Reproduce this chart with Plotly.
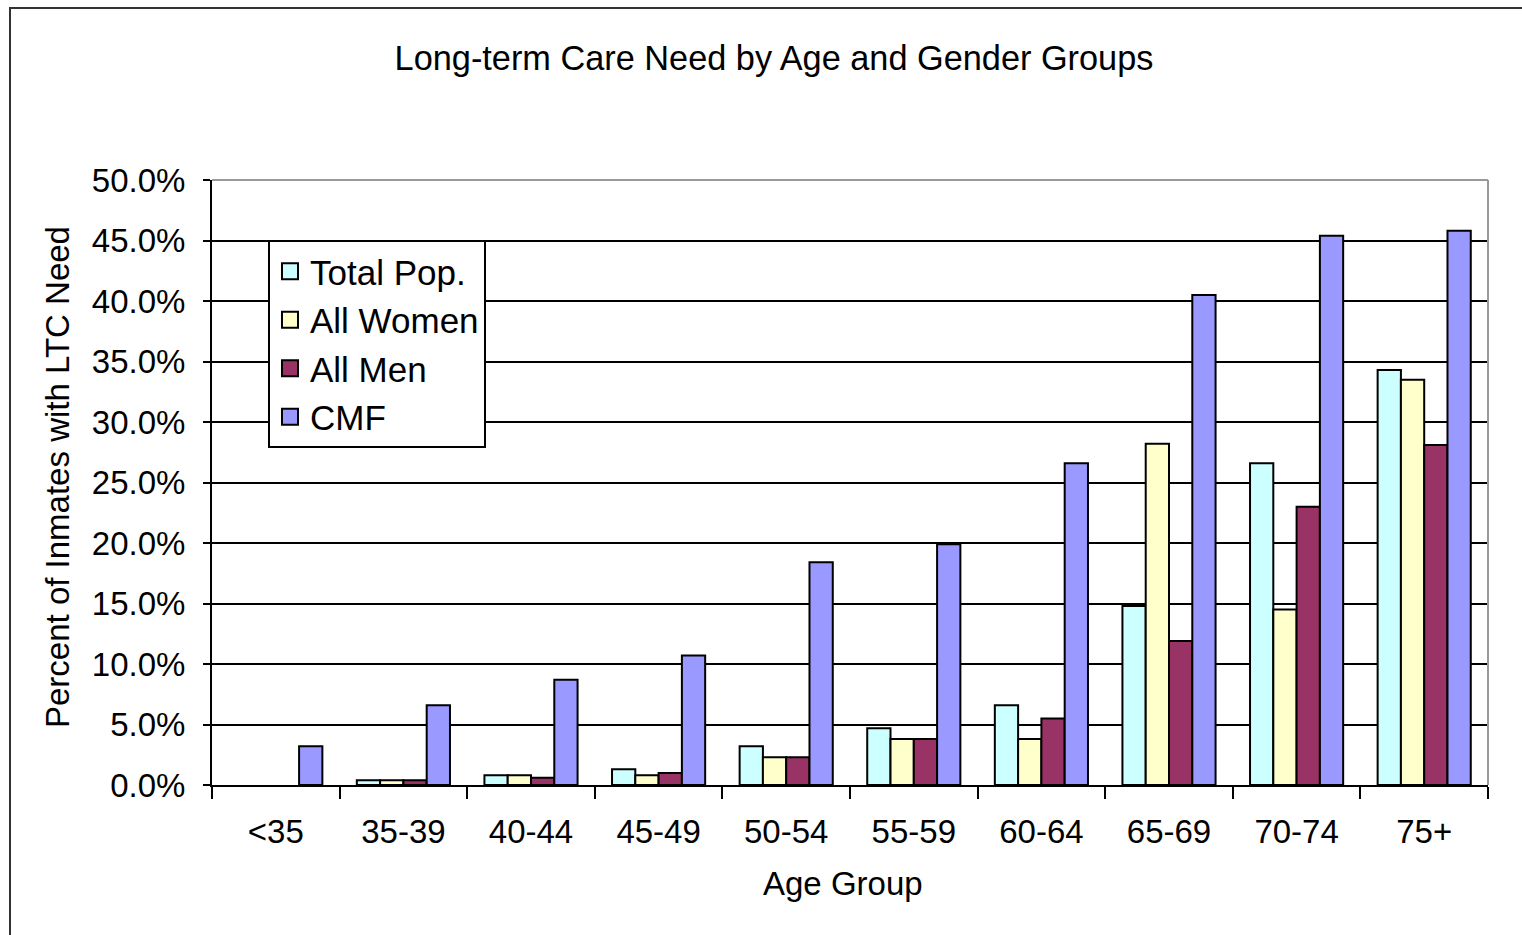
import plotly.graph_objects as go

categories = ["<35", "35-39", "40-44", "45-49", "50-54", "55-59", "60-64", "65-69", "70-74", "75+"]
# None = no bar drawn for that group
total_pop = [None, 0.4, 0.8, 1.3, 3.2, 4.7, 6.6, 14.8, 26.6, 34.3]
all_women = [None, 0.4, 0.8, 0.8, 2.3, 3.8, 3.8, 28.2, 14.5, 33.5]
all_men = [None, 0.4, 0.6, 1.0, 2.3, 3.8, 5.5, 11.9, 23.0, 28.1]
cmf = [3.2, 6.6, 8.7, 10.7, 18.4, 19.9, 26.6, 40.5, 45.4, 45.8]
y_ticks = [0, 5, 10, 15, 20, 25, 30, 35, 40, 45, 50]
y_tick_labels = ["0.0%", "5.0%", "10.0%", "15.0%", "20.0%", "25.0%", "30.0%", "35.0%", "40.0%", "45.0%", "50.0%"]

series = [
    ("Total Pop.", total_pop, "#CCFFFF"),
    ("All Women", all_women, "#FFFFCC"),
    ("All Men", all_men, "#993366"),
    ("CMF", cmf, "#9999FF"),
]

FONT = "Liberation Sans, Arial, sans-serif"
W, H = 1522, 935
L, R, T, B = 212, 34, 180, 150

fig = go.Figure()
for name, vals, color in series:
    fig.add_trace(go.Bar(
        x=categories, y=vals, name=name, showlegend=False,
        marker=dict(color=color, line=dict(color="black", width=2)),
    ))
# legend entries with larger square swatches
for name, vals, color in series:
    fig.add_trace(go.Scatter(
        x=[None], y=[None], name=name, mode="markers",
        marker=dict(symbol="square", size=16, color=color, line=dict(color="black", width=2)),
    ))

fig.update_layout(
    width=W, height=H,
    margin=dict(l=L, r=R, t=T, b=B, pad=0),
    paper_bgcolor="white", plot_bgcolor="white",
    barmode="group", bargap=0.27, bargroupgap=0.0,
    font=dict(family=FONT, size=33, color="black"),
    title=dict(
        text="Long-term Care Need by Age and Gender Groups",
        x=774 / W, xref="container", xanchor="center",
        y=1 - 58 / H, yref="container", yanchor="middle",
        font=dict(family=FONT, size=34.3, color="black"),
    ),
    legend=dict(
        x=(268 - L) / (W - L - R), y=(H - B - 240) / (H - T - B),
        xanchor="left", yanchor="top",
        bgcolor="white", bordercolor="black", borderwidth=2,
        font=dict(family=FONT, size=35, color="black"),
        itemwidth=30, tracegroupgap=0, traceorder="normal",
    ),
    showlegend=True,
)

fig.update_yaxes(
    range=[0, 50], tickvals=y_ticks, ticktext=y_tick_labels,
    showgrid=True, gridcolor="black", gridwidth=2,
    showline=True, linecolor="black", linewidth=2,
    ticks="outside", ticklen=7, tickwidth=2, tickcolor="black",
    tickfont=dict(family=FONT, size=33, color="black"),
    ticklabelstandoff=11,
    zeroline=False,
)
fig.update_xaxes(
    showline=True, linecolor="black", linewidth=2,
    ticks="outside", ticklen=12, tickwidth=2, tickcolor="black",
    tickson="boundaries",
    tickfont=dict(family=FONT, size=33, color="black"),
    ticklabelstandoff=16,
)

pw = W - L - R
ph = H - T - B
fig.add_annotation(
    text="Percent of Inmates with LTC Need", textangle=-90,
    xref="paper", yref="paper",
    x=(57 - L) / pw, y=(H - B - 477) / ph,
    showarrow=False, xanchor="center", yanchor="middle",
    font=dict(family=FONT, size=33, color="black"),
)
fig.add_annotation(
    text="Age Group",
    xref="paper", yref="paper",
    x=(843 - L) / pw, y=(H - B - 883) / ph,
    showarrow=False, xanchor="center", yanchor="middle",
    font=dict(family=FONT, size=33, color="black"),
)

fig.add_shape(type="line", xref="paper", yref="paper", x0=0, x1=1, y0=1, y1=1,
              line=dict(color="#999999", width=2))
fig.add_shape(type="line", xref="paper", yref="paper", x0=1, x1=1, y0=0, y1=1,
              line=dict(color="#999999", width=2))
# Outer chart border (only left and top visible within the image)
fig.add_shape(type="rect", xref="paper", yref="paper",
              x0=(10 - L) / pw, x1=(1560 - L) / pw,
              y0=(H - B - 980) / ph, y1=(H - B - 8) / ph,
              line=dict(color="#333333", width=2), fillcolor="rgba(0,0,0,0)", layer="below")

fig.write_html("out.html", config={"displayModeBar": False},
               post_script="document.body.style.margin='0';document.body.style.overflow='hidden';")
